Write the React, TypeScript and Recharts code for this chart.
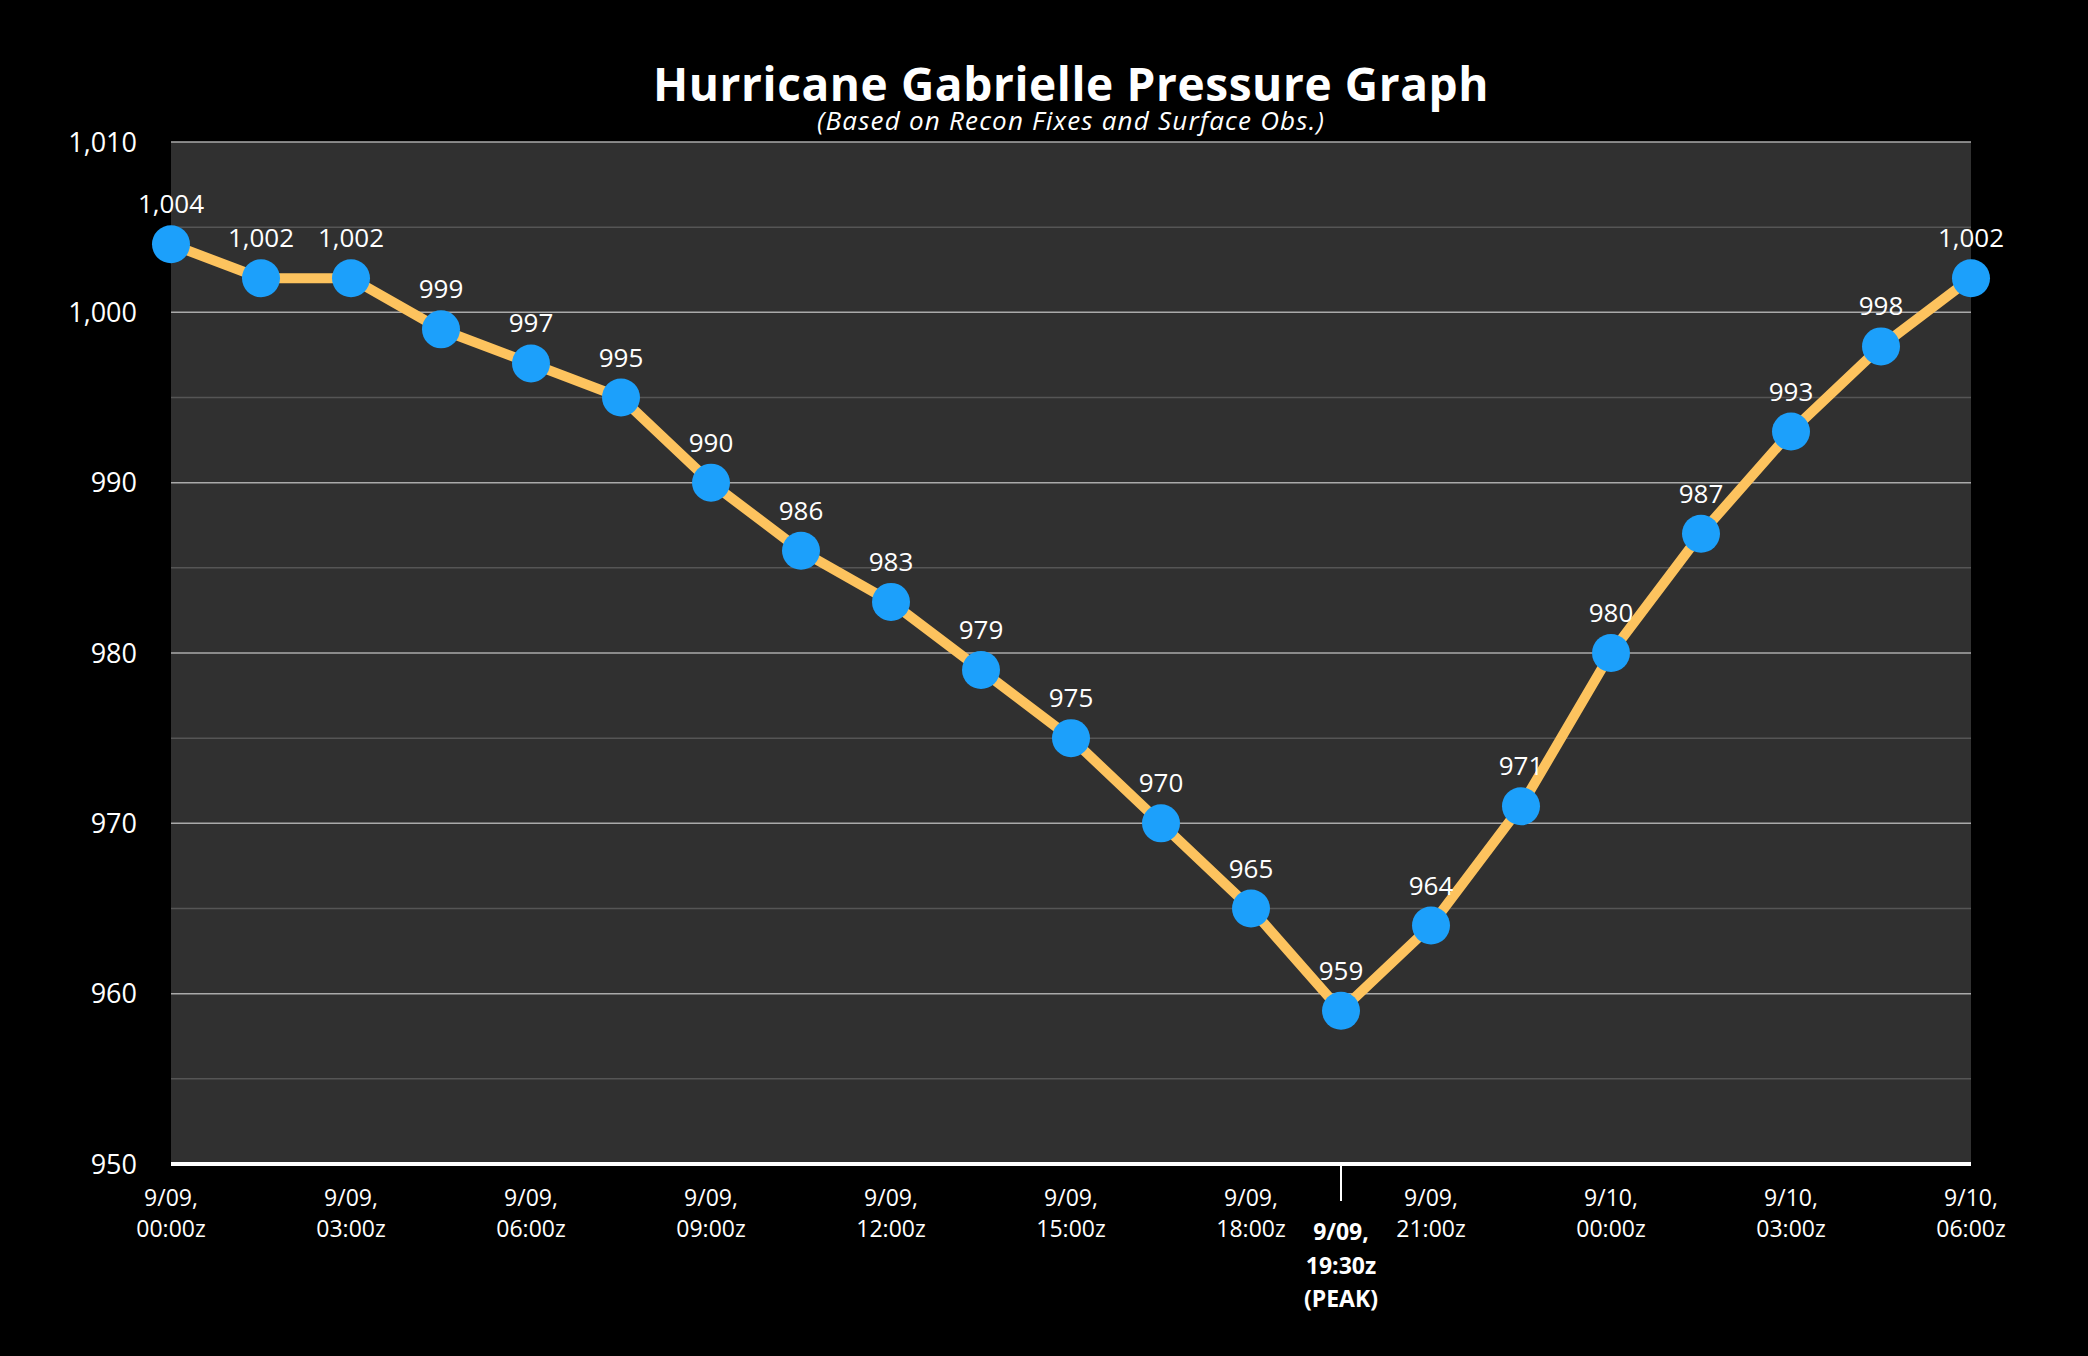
import {
  CartesianGrid,
  LabelList,
  Line,
  LineChart,
  ReferenceLine,
  XAxis,
  YAxis,
} from "recharts";

const times = [
  "9/09, 00:00z",
  "9/09, 01:30z",
  "9/09, 03:00z",
  "9/09, 04:30z",
  "9/09, 06:00z",
  "9/09, 07:30z",
  "9/09, 09:00z",
  "9/09, 10:30z",
  "9/09, 12:00z",
  "9/09, 13:30z",
  "9/09, 15:00z",
  "9/09, 16:30z",
  "9/09, 18:00z",
  "9/09, 19:30z",
  "9/09, 21:00z",
  "9/09, 22:30z",
  "9/10, 00:00z",
  "9/10, 01:30z",
  "9/10, 03:00z",
  "9/10, 04:30z",
  "9/10, 06:00z",
];

const pressures = [
  1004, 1002, 1002, 999, 997, 995, 990, 986, 983, 979, 975, 970, 965, 959, 964,
  971, 980, 987, 993, 998, 1002,
];

const tickTimes = [
  "9/09, 00:00z",
  "9/09, 03:00z",
  "9/09, 06:00z",
  "9/09, 09:00z",
  "9/09, 12:00z",
  "9/09, 15:00z",
  "9/09, 18:00z",
  "9/09, 19:30z",
  "9/09, 21:00z",
  "9/10, 00:00z",
  "9/10, 03:00z",
  "9/10, 06:00z",
];

const peakTime = "9/09, 19:30z";

const yTicks = [950, 960, 970, 980, 990, 1000, 1010];
const minorGrid = [955, 965, 975, 985, 995, 1005];

const data = times.map((t, i) => ({ time: t, pressure: pressures[i] }));

const FONT = "'Open Sans', sans-serif";
const fmt = (v: number) => v.toLocaleString("en-US");

function TimeTick(props: any) {
  const { x, y, payload } = props;
  const [day, hour] = String(payload.value).split(", ");
  if (payload.value === peakTime) {
    return (
      <g>
        <line x1={x} x2={x} y1={y + 2} y2={y + 37} stroke="#fff" strokeWidth={2} />
        <text
          x={x}
          y={y}
          textAnchor="middle"
          fill="#fff"
          fontFamily={FONT}
          fontSize={23}
          fontWeight={700}
        >
          <tspan x={x} dy={76}>{day + ","}</tspan>
          <tspan x={x} dy={34}>{hour}</tspan>
          <tspan x={x} dy={33}>(PEAK)</tspan>
        </text>
      </g>
    );
  }
  return (
    <text x={x} y={y} textAnchor="middle" fill="#fff" fontFamily={FONT} fontSize={23}>
      <tspan x={x} dy={42}>{day + ","}</tspan>
      <tspan x={x} dy={31}>{hour}</tspan>
    </text>
  );
}

function PointLabel(props: any) {
  const { x, y, value } = props;
  return (
    <text
      x={x}
      y={y - 31}
      textAnchor="middle"
      fill="#fff"
      fontFamily={FONT}
      fontSize={26}
    >
      {fmt(value)}
    </text>
  );
}

export default function App() {
  return (
    <div
      style={{
        position: "absolute",
        left: 0,
        top: 0,
        width: 2088,
        height: 1356,
        background: "#000",
        fontFamily: FONT,
        overflow: "hidden",
      }}
    >
      <div
        style={{
          position: "absolute",
          left: 171,
          width: 1800,
          top: 60,
          textAlign: "center",
          color: "#fff",
          fontSize: 46,
          fontWeight: 700,
          letterSpacing: 0.6,
          lineHeight: "46px",
        }}
      >
        Hurricane Gabrielle Pressure Graph
      </div>
      <div
        style={{
          position: "absolute",
          left: 171,
          width: 1800,
          top: 106,
          textAlign: "center",
          color: "#fff",
          fontSize: 26,
          fontStyle: "italic",
          letterSpacing: 1.2,
          lineHeight: "28px",
        }}
      >
        (Based on Recon Fixes and Surface Obs.)
      </div>
      <LineChart
        width={2088}
        height={1356}
        data={data}
        margin={{ top: 142, right: 117, bottom: 42, left: 71 }}
      >
        <CartesianGrid fill="#303030" stroke="none" horizontal={false} vertical={false} />
        {minorGrid.map((v) => (
          <ReferenceLine key={"m" + v} y={v} stroke="#555" strokeWidth={1.5} />
        ))}
        {yTicks.map((v) => (
          <ReferenceLine key={"M" + v} y={v} stroke="#aaa" strokeWidth={1.5} />
        ))}
        <XAxis
          dataKey="time"
          ticks={tickTimes}
          interval={0}
          height={150}
          tick={<TimeTick />}
          tickLine={false}
          tickSize={0}
          tickMargin={0}
          axisLine={{ stroke: "#fff", strokeWidth: 4 }}
        />
        <YAxis
          domain={[950, 1010]}
          ticks={yTicks}
          width={100}
          tickFormatter={fmt}
          axisLine={false}
          tickLine={false}
          tickSize={0}
          tickMargin={34}
          tick={{ fill: "#fff", fontSize: 27, fontFamily: FONT }}
        />
        <Line
          type="linear"
          dataKey="pressure"
          stroke="#fdc35e"
          strokeWidth={10}
          dot={{ r: 19, fill: "#1ca0fb", stroke: "none" }}
          activeDot={false}
          isAnimationActive={false}
        >
          <LabelList dataKey="pressure" content={<PointLabel />} />
        </Line>
      </LineChart>
    </div>
  );
}
